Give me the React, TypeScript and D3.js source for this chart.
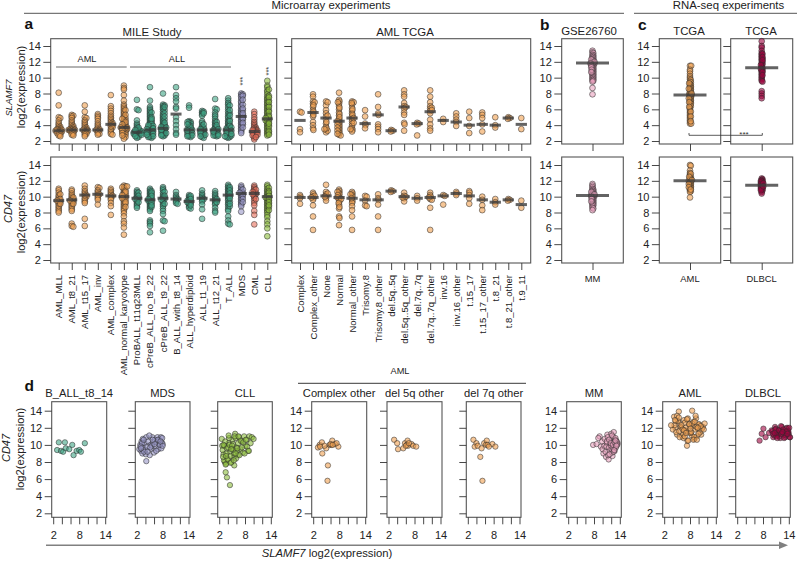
import React, { useEffect, useRef } from 'react';
import * as d3 from 'd3';

const width = 800;
const height = 561;
const font = '"Liberation Sans", Arial, sans-serif';

const orange = '#f0a050';
const green = '#3fa585';
const purple = '#9a98c8';
const red = '#e8705c';
const lime = '#8cbc3c';
const pink = '#e8a0bc';
const wine = '#a0043f';

const mileCategories = ['AML_MLL', 'AML_t8_21', 'AML_t15_17', 'AML_inv', 'AML_complex', 'AML_normal_karyotype', 'ProBALL_t11q23MLL', 'cPreB_ALL_no_t9_22', 'cPreB_ALL_t9_22', 'B_ALL_with_t8_14', 'ALL_hyperdiploid', 'ALL_t1_19', 'ALL_t12_21', 'T_ALL', 'MDS', 'CML', 'CLL'];
const mileColors = [orange, orange, orange, orange, orange, orange, green, green, green, green, green, green, green, green, purple, red, lime];
const mileSlamf7Medians = [3.3, 3.4, 3.4, 3.4, 4.1, 3.7, 3.1, 3.4, 3.6, 5.4, 3.4, 3.4, 3.4, 3.4, 5.1, 3.2, 4.8];
const mileCd47Medians = [9.5, 9.6, 10.2, 10.3, 10.1, 10.0, 9.8, 9.6, 9.8, 9.7, 9.4, 9.8, 9.6, 10.2, 10.4, 10.4, 10.0];
const mileSlamf7 = [
  [8.1, 6.5, 5.0, 4.9, 4.6, 4.3, 4.1, 3.9, 3.8, 3.7, 3.6, 3.5, 3.5, 3.4, 3.4, 3.3, 3.3, 3.3, 3.2, 3.2, 3.1, 3.0, 3.0, 2.9, 2.8, 2.7, 2.6],
  [5.3, 5.2, 5.1, 4.9, 4.6, 4.4, 4.2, 4.0, 3.9, 3.8, 3.7, 3.6, 3.5, 3.5, 3.4, 3.4, 3.4, 3.3, 3.3, 3.2, 3.1, 3.0, 2.9, 2.8, 2.7],
  [6.5, 5.7, 5.0, 4.9, 4.6, 4.4, 4.2, 4.0, 3.8, 3.7, 3.6, 3.5, 3.4, 3.4, 3.3, 3.3, 3.2, 3.1, 3.0, 2.9, 2.8, 2.6],
  [5.4, 5.2, 5.0, 4.8, 4.5, 4.2, 4.0, 3.8, 3.6, 3.5, 3.4, 3.4, 3.3, 3.2, 3.0, 2.9, 2.8],
  [7.8, 6.4, 6.1, 5.8, 5.5, 5.2, 5.0, 4.8, 4.6, 4.4, 4.3, 4.2, 4.1, 4.0, 3.9, 3.8, 3.7, 3.5, 3.3, 3.1, 2.9, 2.8],
  [9.0, 8.7, 8.5, 7.8, 7.1, 6.6, 6.4, 6.2, 6.0, 5.8, 5.6, 5.4, 5.2, 5.0, 4.9, 4.7, 4.6, 4.5, 4.3, 4.2, 4.1, 4.0, 3.9, 3.8, 3.8, 3.7, 3.7, 3.6, 3.6, 3.5, 3.5, 3.4, 3.3, 3.2, 3.2, 3.1, 3.0, 2.9, 2.8, 2.6, 2.5, 2.3, 5.9, 5.3, 4.8, 4.4, 4.1, 3.7, 3.4, 3.0, 2.7],
  [7.2, 6.0, 5.9, 4.6, 4.2, 4.0, 3.8, 3.6, 3.5, 3.4, 3.3, 3.2, 3.2, 3.1, 3.1, 3.0, 3.0, 2.9, 2.9, 2.8, 2.8, 2.7, 2.6, 2.5, 2.4, 3.3, 3.1, 2.9, 3.2, 3.0, 2.8, 2.6, 3.7, 3.4],
  [8.8, 7.1, 6.3, 6.1, 5.9, 5.7, 5.5, 5.3, 5.1, 4.9, 4.7, 4.5, 4.3, 4.1, 4.0, 3.9, 3.8, 3.7, 3.6, 3.5, 3.5, 3.4, 3.3, 3.3, 3.2, 3.1, 3.0, 2.9, 2.8, 2.7, 2.6, 2.5, 2.4, 4.4, 3.8, 3.4, 3.0, 2.7, 5.6, 5.0, 4.6, 4.2, 3.9, 3.6, 3.2, 2.9, 2.6, 2.5, 4.8, 4.0, 3.5, 3.1, 2.8],
  [8.0, 6.6, 6.5, 6.4, 6.2, 6.0, 5.7, 5.4, 5.2, 5.0, 4.8, 4.6, 4.4, 4.2, 4.0, 3.9, 3.8, 3.7, 3.6, 3.5, 3.4, 3.3, 3.2, 3.1, 3.0, 2.9, 2.8, 2.7, 2.6, 4.1, 3.6, 3.2, 2.9, 5.9, 5.5, 4.7, 4.3, 3.8, 3.4, 3.0, 2.7, 6.3, 5.1, 3.7],
  [8.8, 7.8, 7.4, 7.0, 6.3, 6.1, 5.0, 4.5, 4.0, 3.5, 3.0, 2.8],
  [6.5, 6.2, 4.5, 4.4, 4.3, 4.2, 4.0, 3.8, 3.6, 3.5, 3.4, 3.3, 3.2, 3.1, 3.0, 2.9, 2.8, 2.7, 2.6, 2.5, 3.9, 3.5, 3.1, 2.8, 4.4, 3.7, 3.3, 3.0, 2.7, 4.1, 3.4, 2.6],
  [5.8, 5.6, 5.4, 5.2, 4.5, 4.3, 4.0, 3.8, 3.6, 3.5, 3.4, 3.3, 3.2, 3.1, 3.0, 2.9, 2.8, 2.7, 2.5, 2.4, 3.7, 3.3, 2.9, 5.7, 5.5, 4.1, 3.5, 3.1, 2.8, 2.6],
  [7.3, 6.1, 6.0, 5.6, 5.3, 5.1, 4.8, 4.5, 4.3, 4.1, 3.9, 3.7, 3.6, 3.5, 3.4, 3.3, 3.2, 3.1, 3.0, 2.9, 2.8, 2.7, 2.6, 3.8, 3.4, 3.0, 2.7, 4.4, 4.0, 3.5, 3.2, 2.9, 2.7],
  [7.4, 7.1, 6.8, 6.6, 6.3, 6.0, 5.7, 5.4, 5.1, 4.9, 4.6, 4.4, 4.2, 4.0, 3.8, 3.7, 3.6, 3.5, 3.4, 3.3, 3.2, 3.1, 3.0, 2.9, 2.8, 2.7, 2.6, 2.5, 2.4, 5.5, 4.7, 4.1, 3.6, 3.2, 2.8, 2.5, 6.5, 5.9, 5.2, 4.5, 3.9, 3.4, 3.0, 2.7, 3.7, 3.3, 2.9, 2.6],
  [8.0, 7.9, 7.8, 7.6, 7.3, 7.0, 6.8, 6.5, 6.3, 6.0, 5.8, 5.6, 5.4, 5.2, 5.1, 5.0, 4.8, 4.6, 4.4, 4.2, 4.0, 3.8, 3.6, 3.4, 3.2, 3.0, 6.6, 5.9, 5.3, 4.7, 4.1, 7.7, 7.2, 6.1, 5.5, 4.9, 4.3, 3.7],
  [5.7, 5.4, 5.0, 4.7, 4.4, 4.2, 4.0, 3.8, 3.7, 3.6, 3.5, 3.4, 3.3, 3.2, 3.2, 3.1, 3.0, 2.9, 2.8, 2.7, 2.6, 2.4, 2.2, 3.3, 3.0, 2.7, 3.4, 3.1, 2.8, 2.5],
  [9.6, 9.0, 8.8, 8.4, 8.2, 7.9, 7.6, 7.4, 7.2, 7.0, 6.8, 6.6, 6.4, 6.2, 6.0, 5.8, 5.6, 5.4, 5.2, 5.0, 4.9, 4.8, 4.7, 4.5, 4.3, 4.1, 3.9, 3.7, 3.5, 3.3, 3.1, 2.9, 2.7, 8.5, 7.7, 7.1, 6.5, 5.9, 5.3, 4.6, 4.0, 3.4, 3.0, 7.5, 6.9, 6.3, 5.7, 5.1, 4.4, 3.8, 3.2, 2.8, 4.9, 4.2],
];
const mileCd47 = [
  [11.0, 10.8, 10.5, 10.2, 10.0, 9.8, 9.6, 9.5, 9.4, 9.3, 9.2, 9.0, 8.8, 8.6, 8.4, 8.2, 8.0, 10.3, 9.7, 9.5, 9.1],
  [10.9, 10.7, 10.4, 10.2, 10.0, 9.8, 9.7, 9.6, 9.5, 9.4, 9.3, 9.2, 9.0, 8.8, 8.6, 8.4, 8.2, 6.6, 6.3, 6.2, 9.9, 9.5, 9.1],
  [11.4, 11.0, 10.7, 10.5, 10.3, 10.2, 10.1, 10.0, 9.8, 9.6, 9.4, 9.2, 7.2, 6.3],
  [11.2, 11.1, 10.8, 10.6, 10.4, 10.3, 10.2, 10.0, 9.8, 9.6, 9.0],
  [11.0, 10.8, 10.6, 10.4, 10.2, 10.1, 10.0, 9.8, 9.6, 9.2, 8.8, 7.7],
  [11.4, 11.3, 11.1, 10.9, 10.7, 10.5, 10.3, 10.2, 10.1, 10.0, 9.9, 9.8, 9.6, 9.4, 9.2, 9.0, 8.8, 8.6, 8.4, 8.2, 7.9, 7.5, 6.9, 6.6, 6.1, 5.2, 11.2, 10.8, 10.4, 10.0, 9.5, 9.1, 11.3, 10.6, 10.2, 9.8, 9.3, 8.7],
  [10.8, 10.6, 10.4, 10.2, 10.0, 9.9, 9.8, 9.7, 9.6, 9.4, 9.2, 9.0, 8.8, 8.6, 10.5, 10.1, 9.7, 9.3],
  [11.0, 10.8, 10.6, 10.4, 10.2, 10.0, 9.8, 9.7, 9.6, 9.5, 9.4, 9.2, 9.0, 8.8, 8.6, 8.4, 8.2, 7.0, 6.8, 6.6, 6.3, 5.5, 10.7, 10.3, 9.9, 9.5, 9.1, 8.7, 10.5, 10.1, 9.7, 9.3, 8.9],
  [11.2, 11.0, 10.8, 10.5, 10.2, 10.0, 9.9, 9.8, 9.7, 9.5, 9.2, 9.0, 8.8, 8.5, 8.2, 7.8, 7.0, 6.9, 5.7, 10.6, 10.1, 9.6, 9.1],
  [10.6, 10.2, 10.0, 9.8, 9.7, 9.6, 9.4, 9.2, 9.1],
  [10.2, 10.0, 9.8, 9.6, 9.5, 9.4, 9.3, 9.2, 9.0, 8.8, 8.6, 8.5, 9.9, 9.5, 9.1, 10.1, 9.7, 9.3, 8.9],
  [10.8, 10.4, 10.2, 10.0, 9.8, 9.7, 9.6, 9.4, 9.0, 8.4, 7.2],
  [10.7, 10.4, 10.2, 10.0, 9.8, 9.6, 9.5, 9.4, 9.2, 9.0, 8.6, 8.2, 8.0, 9.7, 9.3],
  [11.5, 11.3, 11.1, 10.9, 10.7, 10.5, 10.3, 10.2, 10.1, 9.9, 9.7, 9.5, 9.2, 9.0, 8.7, 8.4, 8.2, 7.5, 7.0, 6.6, 6.5, 11.0, 10.6, 10.0, 9.4, 8.8, 11.2, 10.8, 10.4, 9.8, 9.1],
  [11.4, 11.2, 11.0, 10.8, 10.6, 10.5, 10.4, 10.3, 10.2, 10.0, 9.8, 9.6, 9.4, 9.2, 9.0, 8.8, 8.1, 10.9, 10.5, 10.1, 9.7, 9.3],
  [11.4, 11.2, 11.0, 10.8, 10.6, 10.5, 10.4, 10.3, 10.2, 10.0, 9.8, 9.5, 9.2, 8.9, 8.2, 7.7, 6.5, 10.9, 10.6, 10.3, 9.7],
  [11.5, 11.3, 11.0, 10.8, 10.6, 10.4, 10.2, 10.0, 9.9, 9.8, 9.6, 9.4, 9.2, 9.0, 8.8, 8.6, 8.4, 8.2, 8.0, 7.7, 7.4, 6.9, 6.5, 6.0, 5.0, 11.1, 10.7, 10.3, 9.9, 9.5, 9.1, 8.7, 8.3, 10.5, 10.1, 9.7, 9.3, 8.9],
];

const tcgaCategories = ['Complex', 'Complex_other', 'None', 'Normal', 'Normal_other', 'Trisomy.8', 'Trisomy.8_other', 'del.5q..5q', 'del.5q..5q_other', 'del.7q..7q', 'del.7q..7q_other', 'inv.16', 'inv.16_other', 't.15_17', 't.15_17_other', 't.8_21', 't.8_21_other', 't.9_11'];
const tcgaSlamf7Medians = [4.6, 5.6, 4.9, 4.5, 4.9, 4.2, 5.3, 3.3, 6.3, 4.2, 5.7, 4.6, 4.4, 4.0, 4.1, 4.0, 4.9, 4.1];
const tcgaCd47Medians = [9.9, 9.9, 10.1, 9.9, 9.8, 9.6, 9.6, 10.7, 10.0, 9.8, 9.9, 10.1, 10.4, 10.1, 9.6, 9.3, 9.6, 9.0];
const tcgaSlamf7 = [
  [5.7, 5.6, 3.5, 3.1],
  [7.9, 7.6, 7.0, 6.7, 6.3, 5.9, 5.5, 5.1, 4.4, 4.0, 3.6, 3.4, 6.9, 6.5, 5.7, 5.3],
  [7.0, 6.5, 5.9, 5.5, 5.1, 4.7, 4.2, 3.8, 3.4, 3.1, 3.3, 3.6, 6.9, 5.2, 4.4, 3.5],
  [8.1, 7.2, 7.0, 6.7, 6.4, 6.0, 5.6, 5.2, 4.8, 4.6, 4.4, 4.2, 4.0, 3.8, 3.6, 3.4, 3.2, 3.0, 2.8, 2.7, 6.9, 6.2, 5.4, 5.0, 4.5, 4.1, 3.7, 3.3, 2.9],
  [7.0, 6.9, 6.6, 6.2, 5.8, 5.5, 5.1, 4.8, 4.5, 4.2, 3.9, 3.6, 3.4, 3.2, 6.8, 6.0, 5.3, 4.9, 4.3, 3.5],
  [5.9, 5.1, 4.2, 4.0, 3.6],
  [7.9, 6.3, 5.5, 5.3, 4.1, 3.8, 3.5, 3.1],
  [3.4, 3.3, 3.2],
  [8.4, 7.9, 7.6, 6.8, 6.4, 6.3, 6.1, 5.6, 5.3, 4.3, 4.1, 3.3],
  [4.3, 4.2, 4.1, 2.7],
  [8.4, 7.6, 6.9, 6.4, 6.1, 5.8, 5.5, 4.7, 4.1, 3.6, 3.3, 6.2, 5.9],
  [4.8, 4.4],
  [5.5, 5.1, 4.7, 4.4, 3.9],
  [5.7, 4.9, 3.9, 3.0],
  [5.6, 5.3, 4.9, 4.1, 3.2],
  [5.0, 4.0, 3.7],
  [5.0, 4.9, 4.8],
  [4.9, 3.5],
];
const tcgaCd47 = [
  [10.2, 10.0, 9.8, 9.1],
  [10.5, 10.3, 10.0, 9.8, 9.6, 8.9, 7.5, 5.8, 10.1, 9.9],
  [11.5, 10.6, 10.3, 10.1, 9.8, 9.5, 10.4, 10.0],
  [10.9, 10.7, 10.5, 10.3, 10.0, 9.8, 9.6, 9.4, 9.0, 8.5, 7.5, 7.3, 6.4, 10.6, 10.2, 9.9, 9.7, 9.2, 8.7],
  [10.6, 10.4, 10.2, 10.0, 9.6, 9.4, 9.2, 8.8, 8.3, 7.5, 5.8, 10.3, 9.8],
  [10.1, 10.0, 9.5, 8.9, 8.8],
  [10.3, 9.8, 9.6, 9.0, 7.5, 5.8],
  [10.8, 10.7, 10.6],
  [10.5, 10.1, 9.8, 9.4, 10.0, 9.9],
  [10.1, 9.8, 9.5],
  [10.5, 10.2, 10.0, 9.7, 9.6, 8.6, 5.8, 9.9],
  [10.2, 10.1, 9.0],
  [10.6, 10.4, 10.2],
  [10.7, 10.5, 10.2, 9.8, 9.1],
  [10.0, 9.6, 8.9, 8.3],
  [9.7, 9.3, 9.0],
  [9.7, 9.6, 9.5],
  [9.5, 8.6],
];

const mmSlamf7 = [13.4, 13.2, 13.1, 12.9, 12.8, 12.7, 12.6, 12.5, 12.4, 12.3, 12.2, 12.1, 12.0, 11.9, 11.9, 11.8, 11.8, 11.7, 11.7, 11.6, 11.5, 11.4, 11.3, 11.2, 11.1, 11.0, 10.9, 10.8, 10.7, 10.6, 10.5, 10.4, 10.3, 10.2, 10.1, 10.0, 9.9, 9.8, 9.7, 9.6, 9.5, 8.7, 7.9, 12.3, 12.0, 11.8, 11.5, 11.3, 11.0, 10.7];
const mmCd47 = [11.6, 11.4, 11.2, 11.0, 10.9, 10.8, 10.7, 10.6, 10.5, 10.4, 10.3, 10.2, 10.2, 10.1, 10.1, 10.0, 9.9, 9.8, 9.7, 9.6, 9.5, 9.4, 9.3, 9.2, 9.1, 9.0, 8.9, 8.8, 8.6, 8.5, 8.3, 10.6, 10.3, 10.0, 9.7, 9.4];
const amlSlamf7 = [11.5, 11.5, 11.0, 10.8, 10.5, 10.2, 10.0, 9.8, 9.7, 9.5, 9.4, 9.2, 9.1, 9.0, 8.9, 8.8, 8.7, 8.6, 8.5, 8.4, 8.3, 8.2, 8.1, 8.0, 7.9, 7.9, 7.8, 7.8, 7.7, 7.6, 7.5, 7.4, 7.3, 7.2, 7.1, 7.0, 6.9, 6.8, 6.7, 6.5, 6.4, 6.2, 6.0, 5.8, 5.6, 5.4, 5.2, 5.0, 4.8, 4.6, 4.4, 4.2, 4.2, 9.3, 8.6, 8.0, 7.4, 6.9, 6.3, 5.7, 5.1, 4.5];
const amlCd47 = [14.0, 13.9, 13.3, 13.0, 12.8, 12.6, 12.5, 12.4, 12.3, 12.2, 12.1, 12.0, 12.0, 11.9, 11.8, 11.7, 11.6, 11.5, 11.4, 11.3, 11.2, 11.1, 11.0, 10.8, 10.7, 10.6, 9.9, 12.9, 12.5, 12.1, 11.6, 11.2, 10.9];
const dlbclSlamf7 = [14.6, 14.0, 13.8, 13.4, 13.1, 12.9, 12.7, 12.5, 12.4, 12.3, 12.1, 12.0, 11.8, 11.7, 11.5, 11.3, 11.2, 11.0, 10.9, 10.8, 10.6, 10.4, 10.2, 10.0, 9.8, 9.6, 9.5, 8.3, 8.0, 7.7, 7.4, 13.0, 12.6, 12.2, 11.6, 11.1, 10.7, 10.3];
const dlbclCd47 = [12.3, 12.2, 12.1, 12.0, 11.9, 11.8, 11.7, 11.6, 11.5, 11.4, 11.3, 11.2, 11.1, 11.0, 10.9, 10.8, 10.6, 10.4, 12.0, 11.8, 11.6, 11.4, 11.2, 11.0, 10.8, 11.7, 11.3];

const scatterTitles = ['B_ALL_t8_14', 'MDS', 'CLL', 'Complex other', 'del 5q other', 'del 7q other', 'MM', 'AML', 'DLBCL'];
const scatterColors = [green, purple, lime, orange, orange, orange, pink, orange, wine];
const scatterX = [
  [3.3, 4.7, 2.9, 3.8, 4.3, 4.9, 5.7, 6.4, 6.7, 7.4, 8.0, 8.4, 9.3],
  [4.2, 3.0, 2.6, 2.8, 3.1, 3.3, 3.5, 3.4, 3.8, 4.0, 4.2, 4.4, 4.6, 4.1, 3.7, 3.2, 2.9, 5.0, 5.2, 5.4, 5.6, 5.8, 6.0, 6.2, 6.4, 4.9, 5.5, 6.6, 6.8, 7.0, 7.2, 7.4, 7.6, 7.8, 8.0, 7.7, 7.3, 6.9, 6.5, 6.1, 5.7, 5.1, 4.5, 3.6, 3.0, 7.9, 8.0, 7.5],
  [4.5, 3.8, 3.5, 5.5, 2.6, 2.7, 3.0, 3.3, 3.6, 3.9, 4.2, 4.5, 4.8, 5.1, 5.4, 5.7, 6.0, 6.3, 6.6, 6.9, 7.2, 7.5, 7.8, 8.1, 8.4, 8.7, 9.0, 9.3, 9.6, 10.0, 2.8, 3.1, 3.4, 3.7, 4.0, 4.3, 4.6, 4.9, 5.2, 5.5, 5.8, 6.1, 6.4, 6.7, 7.0, 7.3, 7.6, 7.9, 8.2, 2.9, 3.2, 3.5, 3.8, 4.1, 4.4, 4.7, 5.0, 5.3, 5.6, 5.9, 6.2, 6.5, 8.5, 3.0, 3.6, 4.2, 4.8, 5.4, 8.9, 5.8],
  [5.3, 5.4, 4.1, 3.5, 4.0, 3.1, 5.0, 5.8, 6.4, 6.2, 7.0, 7.8, 7.4, 4.6, 3.6, 6.0, 6.5],
  [3.3, 4.0, 4.2, 5.4, 5.8, 6.4, 6.2, 6.5, 7.3, 7.7, 8.4, 6.0, 6.7],
  [3.3, 4.0, 3.6, 4.3, 4.9, 5.4, 5.2, 5.8, 6.4, 6.2, 6.6, 7.7, 8.4, 6.9],
  [7.8, 8.6, 9.3, 9.0, 9.6, 9.9, 10.2, 10.5, 10.8, 11.1, 11.4, 11.7, 12.0, 12.3, 12.6, 12.9, 13.2, 13.5, 10.0, 10.4, 10.7, 11.0, 11.3, 11.6, 11.9, 12.2, 12.5, 12.8, 13.1, 13.4, 10.9, 11.2, 11.5, 11.8, 12.1, 12.4, 12.7, 13.0, 11.0, 11.6, 12.2, 12.8, 13.3, 11.5, 12.0, 12.5, 13.0, 11.9, 12.6, 12.4, 12.8, 13.1, 13.3, 12.7, 13.0, 13.2],
  [5.4, 8.5, 7.3, 4.3, 4.6, 5.0, 5.4, 5.8, 6.2, 6.6, 7.0, 7.4, 7.8, 8.2, 8.6, 9.0, 9.4, 9.8, 10.2, 10.6, 11.0, 11.4, 4.0, 4.4, 4.8, 5.2, 5.6, 6.0, 6.4, 6.8, 7.2, 7.6, 8.0, 8.4, 8.8, 9.2, 9.6, 10.0, 10.4, 10.8, 11.2, 3.6, 5.0, 5.5, 6.0, 6.5, 7.0, 7.5, 8.0, 8.5, 9.0, 9.5, 10.0, 10.5, 6.3, 6.8, 7.3, 7.8, 8.3, 8.8, 9.3, 9.8, 4.7, 5.4, 6.6, 7.1, 9.1, 9.6, 4.5, 8.1],
  [7.2, 7.7, 8.1, 8.6, 9.4, 10.0, 10.4, 10.8, 11.2, 11.6, 12.0, 12.4, 12.8, 13.2, 13.6, 14.0, 14.3, 10.2, 10.6, 11.0, 11.4, 11.8, 12.2, 12.6, 13.0, 13.4, 13.8, 14.2, 10.3, 10.9, 11.5, 12.1, 12.7, 13.3, 13.9, 11.1, 11.7, 12.3, 12.9, 13.5, 14.1, 10.7, 11.3, 12.5, 13.7],
];
const scatterY = [
  [10.3, 10.3, 9.4, 9.3, 9.2, 9.6, 9.5, 10.0, 8.8, 9.3, 9.4, 9.2, 10.2],
  [8.1, 9.3, 9.5, 10.0, 10.4, 9.0, 9.7, 10.7, 10.2, 9.4, 10.9, 9.8, 10.4, 8.9, 9.2, 10.2, 9.8, 8.8, 10.0, 9.5, 10.9, 10.3, 9.1, 10.6, 9.8, 11.1, 9.9, 10.3, 10.9, 9.5, 10.6, 10.1, 10.9, 10.3, 10.1, 9.6, 10.0, 10.6, 9.3, 10.1, 10.6, 9.7, 9.2, 10.6, 9.6, 10.8, 9.9, 10.4],
  [5.3, 6.2, 6.8, 7.6, 10.7, 9.9, 8.9, 8.0, 7.8, 8.4, 10.2, 9.2, 8.0, 10.6, 8.6, 11.3, 9.7, 8.8, 10.9, 9.5, 10.4, 9.1, 11.0, 9.9, 10.6, 9.3, 11.0, 10.2, 10.9, 10.7, 9.4, 8.2, 10.4, 9.0, 8.3, 10.8, 8.7, 9.6, 10.1, 9.0, 10.8, 9.3, 10.2, 8.8, 10.5, 9.7, 10.3, 9.0, 10.6, 8.6, 9.9, 7.7, 9.6, 9.7, 10.0, 7.9, 9.9, 9.4, 11.0, 8.4, 9.6, 11.0, 9.8, 10.0, 8.7, 11.1, 9.5, 8.2, 9.3, 9.0],
  [5.8, 7.6, 9.0, 10.0, 10.3, 9.7, 9.6, 10.0, 10.5, 10.0, 10.1, 9.8, 10.2, 9.9, 9.8, 10.1, 10.0],
  [10.6, 10.2, 9.5, 9.6, 10.2, 10.5, 10.0, 9.9, 10.1, 9.9, 9.8, 9.9, 10.2],
  [10.6, 10.2, 9.8, 9.9, 8.6, 5.8, 9.6, 10.2, 10.5, 10.0, 10.0, 10.1, 9.8, 9.8],
  [10.0, 10.1, 11.0, 10.8, 9.8, 10.4, 9.0, 10.7, 8.6, 11.2, 8.3, 10.0, 11.3, 8.7, 11.5, 10.6, 10.3, 10.2, 9.5, 9.9, 9.2, 10.2, 8.8, 9.4, 10.5, 9.1, 10.9, 9.7, 10.5, 10.0, 9.8, 10.9, 9.7, 10.3, 9.5, 10.1, 9.8, 10.6, 10.4, 8.9, 11.1, 9.3, 10.4, 10.6, 9.9, 9.6, 10.8, 10.2, 9.2, 10.0, 10.3, 9.7, 10.1, 9.4, 10.5, 9.9],
  [13.9, 14.0, 9.9, 13.3, 12.0, 11.2, 12.6, 12.1, 11.0, 12.9, 11.7, 10.5, 12.5, 11.4, 12.2, 10.7, 13.1, 11.9, 12.4, 11.2, 12.1, 12.5, 11.8, 12.3, 11.5, 12.8, 10.9, 12.0, 11.3, 12.6, 11.6, 10.5, 12.2, 11.1, 12.7, 11.8, 11.0, 12.4, 11.5, 11.9, 11.8, 12.3, 13.4, 11.6, 12.3, 10.8, 12.0, 13.1, 11.4, 12.5, 10.9, 12.1, 11.3, 12.2, 11.8, 11.0, 13.0, 12.4, 11.5, 10.6, 13.4, 12.0, 12.8, 13.2, 11.7, 11.4, 12.7, 10.6, 12.9, 11.9],
  [10.5, 11.3, 11.9, 10.9, 11.4, 11.7, 10.9, 12.1, 11.3, 11.7, 10.8, 12.1, 11.5, 10.9, 12.0, 11.3, 10.9, 11.6, 11.1, 11.9, 11.4, 11.0, 12.2, 11.6, 11.2, 11.9, 11.5, 10.9, 11.3, 11.8, 11.2, 11.5, 11.8, 11.1, 11.6, 11.0, 11.7, 11.3, 10.8, 11.6, 12.0, 11.4, 10.8, 11.5, 11.3],
];

const yScaleTicks = [2, 4, 6, 8, 10, 12, 14];

const Axis = ({ axis, x, y }: any) => {
  const ref = useRef<SVGGElement>(null);
  useEffect(() => {
    const g = d3.select(ref.current);
    g.call(axis);
    g.select('.domain').remove();
    g.selectAll('line').attr('stroke', '#333').attr('stroke-width', 0.9);
    g.selectAll('text').attr('fill', '#222').attr('font-family', font).attr('font-size', 11);
  }, []);
  return <g ref={ref} transform={`translate(${x},${y})`} />;
};

// greedy beeswarm, returns a pixel offset for every value
const swarm = (values: number[], y: any, dist: number) => {
  const placed: { o: number; p: number }[] = [];
  return values.map(v => {
    const p = y(v);
    let best = 0;
    for (let i = 0; i < 60; i++) {
      const o = (i % 2 ? 1 : -1) * Math.ceil(i / 2) * 0.4;
      if (placed.every(q => (q.o - o) ** 2 + (q.p - p) ** 2 >= dist * dist)) {
        best = o;
        break;
      }
    }
    placed.push({ o: best, p });
    return best;
  });
};

const dotStyle = (color: string) => ({
  fill: color,
  fillOpacity: 0.6,
  stroke: '#2a2a2a',
  strokeOpacity: 0.65,
  strokeWidth: 0.8,
});

const Frame = ({ x, y, w, h }: any) => (
  <rect x={x} y={y} width={w} height={h} fill="none" stroke="#555" strokeWidth={1.1} />
);

const SwarmPanel = ({ left, right, top, bottom, yTop, yBottom, categories, groups, medians, colors, xStart, xEnd, barWidth, dist, labelled, showYLabels, labelSize, radius }: any) => {
  const y = d3.scaleLinear().domain([2, 14]).range([yBottom, yTop]);
  const x = d3.scalePoint().domain(categories).range([xStart, xEnd]);
  const yAxis = d3.axisLeft(y).tickValues(yScaleTicks).tickSize(7.4).tickPadding(2.5).tickFormat(showYLabels ? (d3.format('d') as any) : () => '');
  const xAxis = d3.axisBottom(x).tickSize(7).tickFormat(() => '');
  return (
    <g>
      <Frame x={left} y={top} w={right - left} h={bottom - top} />
      <Axis axis={yAxis} x={left} y={0} />
      <Axis axis={xAxis} x={0} y={bottom} />
      {categories.map((c: string, i: number) => {
        const offs = swarm(groups[i], y, dist);
        return (
          <g key={c}>
            {groups[i].map((v: number, j: number) => (
              <circle key={j} cx={x(c)! + offs[j]} cy={y(v)} r={radius} {...dotStyle(colors[i])} />
            ))}
          </g>
        );
      })}
      {categories.map((c: string, i: number) => (
        <line key={c} x1={x(c)! - barWidth / 2} x2={x(c)! + barWidth / 2} y1={y(medians[i])} y2={y(medians[i])} stroke="#3c3c3c" strokeOpacity={0.8} strokeWidth={3} />
      ))}
      {labelled && categories.map((c: string) => (
        <text key={c} transform={`translate(${x(c)! + 3.5},${bottom + 12}) rotate(-90)`} textAnchor="end" fontSize={labelSize} fill="#222">{c}</text>
      ))}
    </g>
  );
};

const ScatterPanel = ({ left, right, i, showYLabels }: any) => {
  const top = 401.7;
  const bottom = 517.3;
  const x = d3.scaleLinear().domain([2, 14]).range([left + 1.5, right - 1.5]);
  const y = d3.scaleLinear().domain([2, 14]).range([513.3, 410.7]);
  const yAxis = d3.axisLeft(y).tickValues(yScaleTicks).tickSize(7).tickPadding(2.5).tickFormat(showYLabels ? (d3.format('d') as any) : () => '');
  const xAxis = d3.axisBottom(x).tickValues(yScaleTicks).tickSize(7).tickPadding(7).tickFormat((d: any) => ((d - 2) % 6 === 0 ? String(d) : ''));
  return (
    <g>
      <Frame x={left} y={top} w={right - left} h={bottom - top} />
      <Axis axis={yAxis} x={left} y={0} />
      <Axis axis={xAxis} x={0} y={bottom} />
      {scatterX[i].map((v, j) => (
        <circle key={j} cx={x(v)} cy={y(scatterY[i][j])} r={2.7} {...dotStyle(scatterColors[i])} />
      ))}
      <text x={(left + right) / 2} y={396.7} textAnchor="middle" fontSize={11.2}>{scatterTitles[i]}</text>
    </g>
  );
};

const scatterFrames = [[51.7, 106.7], [135.3, 190], [217.7, 272.3], [311.7, 366.7], [387, 442], [466.3, 521], [566.7, 621.3], [662.7, 717.3], [735.7, 790.3]];

const rows = [
  { top: 38.7, bottom: 144, yTop: 46, yBottom: 141 },
  { top: 157, bottom: 263, yTop: 165, yBottom: 260 },
];

const singles = [
  { left: 561.7, right: 623.3, name: 'MM', color: pink, groups: [mmSlamf7, mmCd47], medians: [11.85, 10.15] },
  { left: 659.3, right: 720.7, name: 'AML', color: orange, groups: [amlSlamf7, amlCd47], medians: [7.8, 12] },
  { left: 730.7, right: 792.7, name: 'DLBCL', color: wine, groups: [dlbclSlamf7, dlbclCd47], medians: [11.25, 11.45] },
];

const App = () => (
  <svg width={width} height={height} style={{ position: 'absolute', left: 0, top: 0, background: '#fff' }} fontFamily={font} fill="#222">
    <text x={331} y={9.3} textAnchor="middle" fontSize={11.4}>Microarray experiments</text>
    <line x1={24} x2={624} y1={13.3} y2={13.3} stroke="#555" strokeWidth={1} />
    <text x={728.5} y={9.3} textAnchor="middle" fontSize={11.4}>RNA-seq experiments</text>
    <line x1={634} x2={797} y1={13.3} y2={13.3} stroke="#555" strokeWidth={1} />

    <text x={24.5} y={29} fontSize={15.5} fontWeight="bold" fill="#111">a</text>
    <text x={540} y={30} fontSize={15.5} fontWeight="bold" fill="#111">b</text>
    <text x={638} y={30} fontSize={15.5} fontWeight="bold" fill="#111">c</text>
    <text x={24.5} y={391} fontSize={15.5} fontWeight="bold" fill="#111">d</text>

    <text x={152} y={36} textAnchor="middle" fontSize={11.4}>MILE Study</text>
    <text x={405} y={36} textAnchor="middle" fontSize={11.4}>AML TCGA</text>
    <text x={589} y={34.5} textAnchor="middle" fontSize={11.4}>GSE26760</text>
    <text x={689} y={34.5} textAnchor="middle" fontSize={11.4}>TCGA</text>
    <text x={761} y={34.5} textAnchor="middle" fontSize={11.4}>TCGA</text>

    <text transform="translate(11.7,98) rotate(-90)" textAnchor="middle" fontSize={9.5} fontStyle="italic">SLAMF7</text>
    <text transform="translate(25,87) rotate(-90)" textAnchor="middle" fontSize={11.2}>log2(expression)</text>
    <text transform="translate(11.7,209) rotate(-90)" textAnchor="middle" fontSize={11} fontStyle="italic">CD47</text>
    <text transform="translate(25,212) rotate(-90)" textAnchor="middle" fontSize={11.2}>log2(expression)</text>

    {rows.map((r, k) => (
      <g key={k}>
        <SwarmPanel left={50.7} right={276.7} {...r} categories={mileCategories} groups={k ? mileCd47 : mileSlamf7} medians={k ? mileCd47Medians : mileSlamf7Medians} colors={mileColors} xStart={58.7} xEnd={267.3} barWidth={11} dist={1.5} labelled={k === 1} showYLabels labelSize={9.5} radius={2.9} />
        <SwarmPanel left={291.7} right={530.7} {...r} categories={tcgaCategories} groups={k ? tcgaCd47 : tcgaSlamf7} medians={k ? tcgaCd47Medians : tcgaSlamf7Medians} colors={tcgaCategories.map(() => orange)} xStart={300} xEnd={521.3} barWidth={11.3} dist={1.6} labelled={k === 1} showYLabels={false} labelSize={9.5} radius={2.9} />
        {singles.map((s, i) => (
          <SwarmPanel key={s.name} left={s.left} right={s.right} {...r} categories={[s.name]} groups={[s.groups[k]]} medians={[s.medians[k]]} colors={[s.color]} xStart={(s.left + s.right) / 2} xEnd={(s.left + s.right) / 2} barWidth={33} dist={1.1} labelled={false} showYLabels={i < 2} labelSize={9.5} radius={2.9} />
        ))}
      </g>
    ))}
    {singles.map(s => (
      <text key={s.name} x={(s.left + s.right) / 2} y={282} textAnchor="middle" fontSize={9.4}>{s.name}</text>
    ))}

    <line x1={56} x2={126.7} y1={67} y2={67} stroke="#555" strokeWidth={0.9} />
    <line x1={130} x2={231} y1={67} y2={67} stroke="#555" strokeWidth={0.9} />
    <text x={87} y={62} textAnchor="middle" fontSize={9.2}>AML</text>
    <text x={177} y={62} textAnchor="middle" fontSize={9.2}>ALL</text>
    <text transform="translate(245,85.5) rotate(-90)" fontSize={7.5} fill="#333">***</text>
    <text transform="translate(271,75.5) rotate(-90)" fontSize={7.5} fill="#333">***</text>

    <path d="M689,133 V135.3 H762.3 V133" fill="none" stroke="#333" strokeWidth={0.8} />
    <text x={744} y={137} textAnchor="middle" fontSize={8} fill="#333">***</text>

    <text transform="translate(9.5,448) rotate(-90)" textAnchor="middle" fontSize={11} fontStyle="italic">CD47</text>
    <text transform="translate(23.5,449) rotate(-90)" textAnchor="middle" fontSize={11.2}>log2(expression)</text>

    {scatterFrames.map((f, i) => (
      <ScatterPanel key={i} left={f[0]} right={f[1]} i={i} showYLabels={i === 0 || i === 3 || i === 6 || i === 7} />
    ))}

    <text x={400} y={374} textAnchor="middle" fontSize={9.2}>AML</text>
    <line x1={298} x2={526} y1={383.3} y2={383.3} stroke="#222" strokeWidth={0.9} />

    <line x1={46} x2={780} y1={545.3} y2={545.3} stroke="#808080" strokeWidth={1.4} />
    <path d="M788,545.3 L779,541.5 V549 Z" fill="#808080" />
    <text x={327} y={557} textAnchor="middle" fontSize={11.3}>
      <tspan fontStyle="italic">SLAMF7</tspan> log2(expression)
    </text>
  </svg>
);

export default App;
